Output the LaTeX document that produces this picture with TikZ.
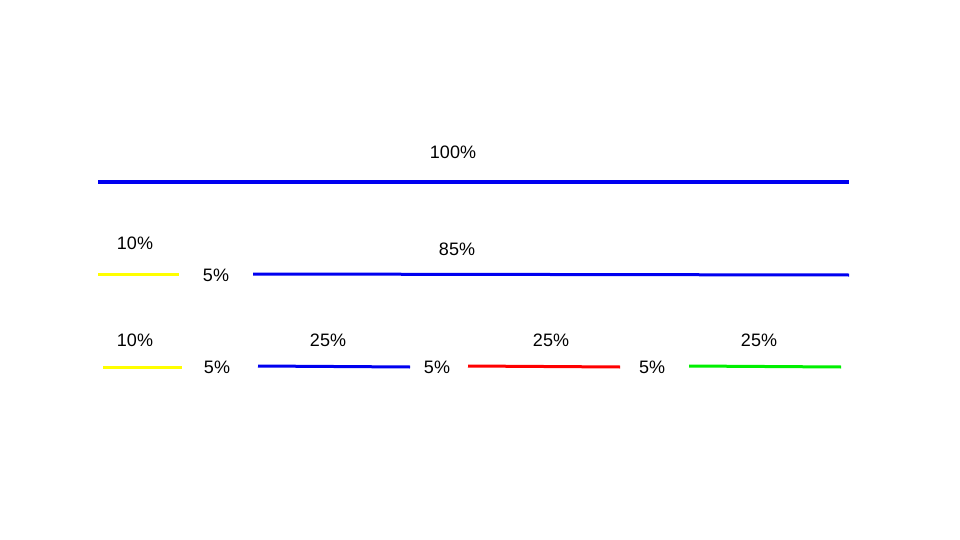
\documentclass[tikz,border=0pt]{standalone}
\usepackage{fontspec}
\setmainfont{Liberation Sans}
\definecolor{segblue}{RGB}{0,0,240}
\definecolor{segyellow}{RGB}{255,255,0}
\definecolor{segred}{RGB}{255,0,0}
\definecolor{seggreen}{RGB}{0,240,0}
\begin{document}
\begin{tikzpicture}[x=1pt,y=1pt]
\tikzset{seg/.style={line width=3pt},
  pct/.style={inner sep=0pt,font=\fontsize{18}{21}\selectfont}}
\useasboundingbox (0,0) rectangle (960,-540);
% whole
\coordinate (w1) at (98,-182);
\coordinate (w2) at (849,-182);
\draw [seg,segblue] (w1) -- (w2);
\node [pct] (whole) at (453,-152) {100\%};
% first split
\coordinate (a1) at (98,-274);
\coordinate (a2) at (179,-274);
\coordinate (b1) at (253,-274);
\coordinate (b2) at (849,-275);
\draw [seg,segyellow] (a1) -- (a2);
\draw [seg,segblue] (b1) -- (b2);
\node [pct] (atxt) at (135,-243) {10\%};
\node [pct] (gap1) at (216,-275) {5\%};
\node [pct] (btxt) at (457,-249) {85\%};
% second split
\coordinate (c1) at (103,-367);
\coordinate (c2) at (182,-367);
\coordinate (d1) at (258,-366);
\coordinate (d2) at (410,-367);
\coordinate (e1) at (468,-366);
\coordinate (e2) at (620,-367);
\coordinate (f1) at (689,-366);
\coordinate (f2) at (841,-367);
\draw [seg,segyellow] (c1) -- (c2);
\draw [seg,segblue] (d1) -- (d2);
\draw [seg,segred] (e1) -- (e2);
\draw [seg,seggreen] (f1) -- (f2);
\node [pct] (ctxt) at (135,-340) {10\%};
\node [pct] (gap2) at (217,-367) {5\%};
\node [pct] (dtxt) at (328,-340) {25\%};
\node [pct] (gap3) at (437,-367) {5\%};
\node [pct] (etxt) at (551,-340) {25\%};
\node [pct] (gap4) at (652,-367) {5\%};
\node [pct] (ftxt) at (759,-340) {25\%};
\end{tikzpicture}
\end{document}
